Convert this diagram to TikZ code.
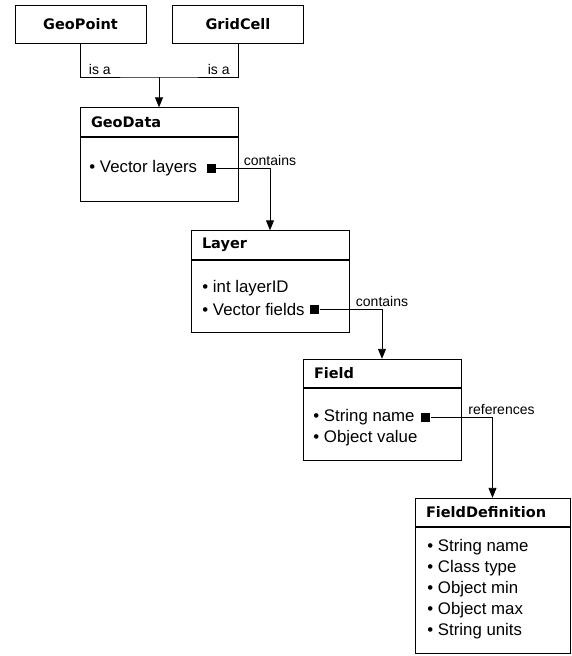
\documentclass[tikz,border=0pt]{standalone}
\usepackage{fontspec}
\setsansfont{Liberation Sans}
\newfontfamily\headfont{DejaVu Sans}
\usetikzlibrary{arrows.meta,positioning}
\begin{document}
\begin{tikzpicture}[x=1pt,y=1pt,font=\sffamily\fontsize{16.8}{20}\selectfont,>={Triangle[width=8pt,length=10pt]},line width=.9pt,
cls/.style={draw,minimum width=131pt,minimum height=38pt,font=\headfont\bfseries\fontsize{14.5}{17}\selectfont},
head/.style={draw,minimum width=158pt,minimum height=28.5pt,text width=136pt,align=left,inner xsep=11pt,font=\headfont\bfseries\fontsize{14.5}{17}\selectfont},
body/.style={draw,minimum width=158pt},
item/.style={anchor=west,inner sep=1pt},
sqmark/.style={fill=black,minimum size=9pt,inner sep=0pt},
lbl/.style={font=\sffamily\fontsize{14}{16}\selectfont,inner sep=2pt}]
\useasboundingbox (0,0) rectangle (571,-656);
\node[cls] (geopoint) at (80.5,-24) {GeoPoint};
\node[cls] (gridcell) at (238,-24) {GridCell};
\node[head] (geodata) at (159,-122) {GeoData};
\node[body,minimum height=64pt,below=0pt of geodata] (geodatabody) {};
\node[item] (layers) at (88,-168) {• Vector layers};
\node[sqmark,right=8pt of layers] (sq1) {};
\node[head] (layer) at (270,-245) {Layer};
\node[body,minimum height=72pt,below=0pt of layer] (layerbody) {};
\node[item] (layerid) at (201,-288) {• int layerID};
\node[item] (fields) at (201,-309) {• Vector fields};
\node[sqmark,right=4pt of fields] (sq2) {};
\node[head] (field) at (382,-373.5) {Field};
\node[body,minimum height=72pt,below=0pt of field] (fieldbody) {};
\node[item] (fname) at (312,-417) {• String name};
\node[item] (fvalue) at (312,-438) {• Object value};
\node[sqmark,right=5pt of fname] (sq3) {};
\node[head,minimum width=155pt,text width=133pt,inner xsep=11pt] (fielddef) at (492.5,-512.5) {FieldDefinition};
\node[body,minimum width=155pt,minimum height=126pt,below=0pt of fielddef] (fielddefbody) {};
\node[item] (dname) at (426,-547) {• String name};
\node[item] (dtype) at (426,-568) {• Class type};
\node[item] (dmin) at (426,-589) {• Object min};
\node[item] (dmax) at (426,-610) {• Object max};
\node[item] (dunits) at (426,-631) {• String units};
% is-a links
\coordinate (isa) at (159,-77);
\draw (geopoint) |- node[lbl,pos=.5,anchor=south west,xshift=6pt]{is a} (isa) -| node[lbl,pos=.5,anchor=south east,xshift=-6pt]{is a} (gridcell);
\draw[->] (isa) -- (geodata);
% containment
\draw[->] (sq1) -| node[lbl,pos=.5,anchor=south]{contains} (layer);
\draw[->] (sq2) -| node[lbl,pos=.5,anchor=south]{contains} (field);
\draw[->] (sq3) -| node[lbl,pos=.5,anchor=south,xshift=9pt]{references} (fielddef);
\end{tikzpicture}
\end{document}
